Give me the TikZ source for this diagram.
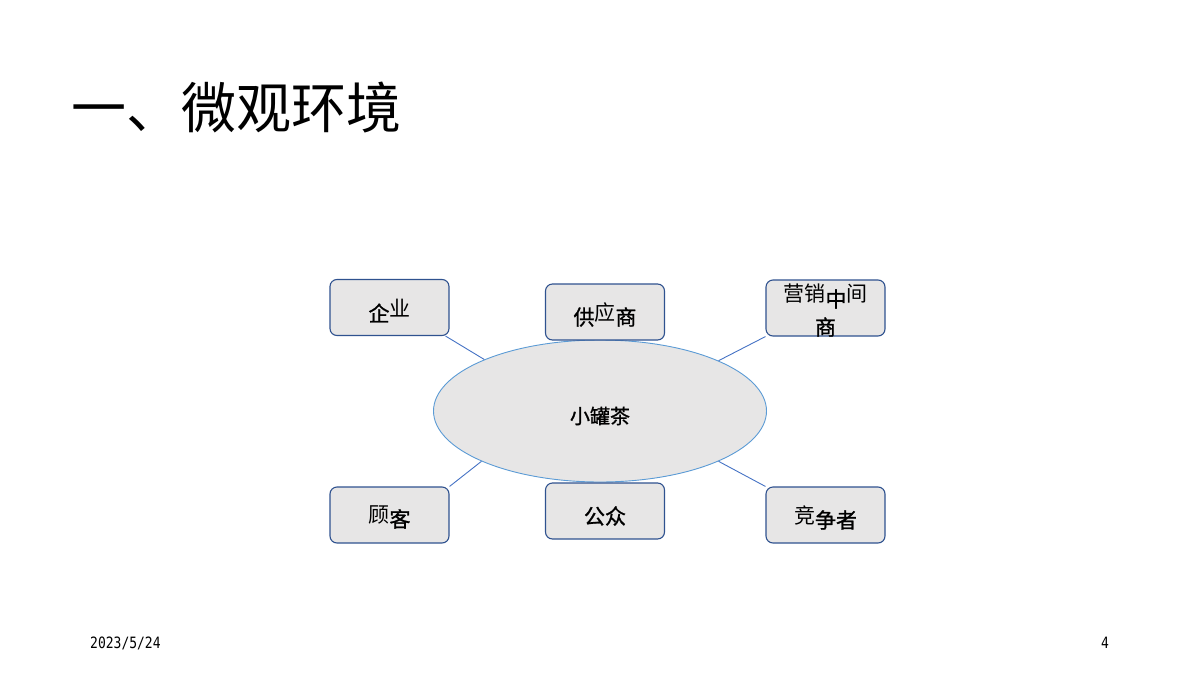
\documentclass[tikz,border=0pt]{standalone}
\usepackage{fontspec}
\newfontfamily\cjk{Noto Sans CJK SC}
\newfontfamily\cjkb[FakeBold=1.2]{Noto Sans CJK SC}
\newfontfamily\footfont{DejaVu Sans Mono}
\usetikzlibrary{shapes.geometric}
\definecolor{boxfill}{HTML}{E7E6E6}
\definecolor{boxline}{HTML}{2F528F}
\definecolor{linkline}{HTML}{4472C4}
\definecolor{ellline}{HTML}{5B9BD5}
\newcommand{\lt}[1]{\smash{\raisebox{5pt}{\cjk #1}}}
\newcommand{\dk}[1]{{\cjkb #1}}
\begin{document}
\begin{tikzpicture}[x=1pt,y=-1pt,
  box/.style={draw=boxline,fill=boxfill,line width=1.1pt,rounded corners=7pt,minimum width=119pt,minimum height=56pt,inner sep=0pt},
  boxtext/.style={inner sep=0pt,font=\fontsize{21}{23}\selectfont\cjk},
  link/.style={draw=linkline,line width=0.9pt}]
\useasboundingbox (0,0) rectangle (1200,675);
\node[anchor=west,font=\fontsize{55}{60}\selectfont\cjk] (title) at (68,108) {一、微观环境};
\node[ellipse,draw=ellline,fill=boxfill,line width=0.9pt,minimum width=333pt,minimum height=142pt,inner sep=0pt] (ell) at (600,411) {};
\node[boxtext,font=\fontsize{20}{22}\selectfont\cjkb] (ellt) at (600,416) {小罐茶};
\node[box] (qy) at (389.5,307.5) {};
\node[box] (gys) at (605,312) {};
\node[box] (yx) at (825.5,308) {};
\node[box] (gk) at (389.5,515) {};
\node[box] (gz) at (605,511) {};
\node[box] (jz) at (825.5,515) {};
\node[boxtext] (qyt) at (389.5,313) {\dk{企}\lt{业}};
\node[boxtext] (gyst) at (605,317) {\dk{供}\lt{应}\dk{商}};
\node[boxtext] (yxt1) at (825.5,299) {\lt{营销}\dk{中}\lt{间}};
\node[boxtext] (yxt2) at (825.5,327) {\dk{商}};
\node[boxtext] (gkt) at (389.5,519) {\lt{顾}\dk{客}};
\node[boxtext] (gzt) at (605,516) {\dk{公众}};
\node[boxtext] (jzt) at (825.5,520) {\lt{竞}\dk{争者}};
\draw[link] (qy.south east) ++(-4,0) coordinate (a1) -- (ell.156.5);
\draw[link] (yx.south west) -- (ell.23.5);
\draw[link] (gk.north east) -- (ell.203.5);
\draw[link] (jz.north west) -- (ell.-23.5);
\node[anchor=west,inner sep=0pt,font=\fontsize{13}{14}\selectfont\footfont] (date) at (90,643) {\scalebox{1}[1.2]{2023/5/24}};
\node[inner sep=0pt,font=\fontsize{13}{14}\selectfont\footfont] (pg) at (1105,643) {\scalebox{1}[1.2]{4}};
\end{tikzpicture}
\end{document}
